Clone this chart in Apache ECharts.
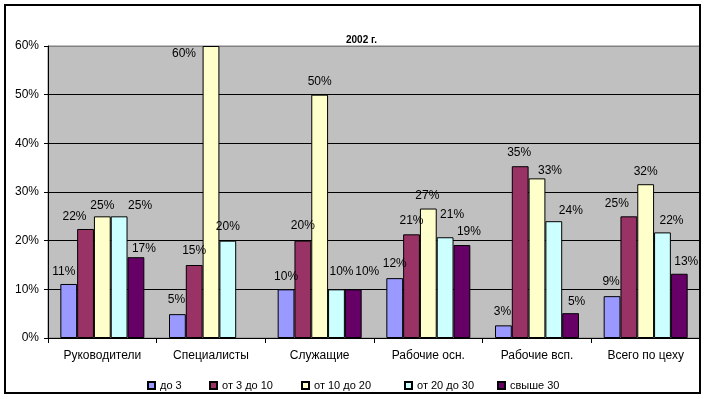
<!DOCTYPE html>
<html>
<head>
<meta charset="utf-8">
<script src="https://cdn.jsdelivr.net/npm/echarts@6/dist/echarts.min.js"></script>
<style>
  html, body { margin: 0; padding: 0; background: #fff; }
  #chart { width: 707px; height: 399px; }
</style>
</head>
<body>
<div id="chart"></div>
<script>
const categories = ["Руководители", "Специалисты", "Служащие", "Рабочие осн.", "Рабочие всп.", "Всего по цеху"];
const seriesNames = ["до 3", "от 3 до 10", "от 10 до 20", "от 20 до 30", "свыше 30"];

// percent values per series, one per category
const upTo3     = [11.1, 4.9, 10, 12.3, 2.6, 8.6];
const from3to10 = [22.4, 15, 20, 21.3, 35.3, 25];
const from10to20 = [25, 60, 50, 26.6, 32.8, 31.6];
const from20to30 = [25, 20, 10, 20.7, 24, 21.7];
const over30    = [16.6, null, 10, 19.1, 5.1, 13.2];

const yTicks = [0, 10, 20, 30, 40, 50, 60];

const seriesValues = [upTo3, from3to10, from10to20, from20to30, over30];
const colors = ["#9999FF", "#993366", "#FFFFCC", "#CCFFFF", "#660066"];

// label nudges (px) to mimic Excel's placement, per series / category
const labelShift = [
  [[-5, 1], [-1, -1], [0, 0], [0, -1], [-1, -1], [-1, -1]],
  [[-11, 1], [0, -1], [0, -2], [0, -1], [-1, -1], [-12, 0]],
  [[0, 2], [-27, 21], [0, 0], [-1, 0], [13, 5], [0, 0]],
  [[21, 2], [0, -1], [5, -5], [7, -10], [17, 2], [9, 1]],
  [[8, 4], [0, 0], [14, -5], [7, 0], [6, 2], [7, 1]],
];
const legendLeft = [147, 209, 301, 404, 497];

const FONT = 'Arial, "Liberation Sans", sans-serif';

const chart = echarts.init(document.getElementById("chart"));

const series = seriesNames.map((name, s) => ({
  name,
  type: "bar",
  barWidth: 16.8,
  barGap: "0%",
  itemStyle: { color: colors[s], borderColor: "#000", borderWidth: 1 },
  label: {
    show: true,
    position: "top",
    distance: 7,
    color: "#000",
    fontSize: 12,
    fontFamily: FONT,
    formatter: p => p.value == null ? "" : Math.round(p.value) + "%"
  },
  data: seriesValues[s].map((v, c) => ({
    value: v,
    label: { offset: labelShift[s][c] }
  }))
}));

chart.setOption({
  backgroundColor: "#fff",
  animation: false,
  title: {
    text: "2002 г.",
    left: 341,
    top: 30,
    textStyle: { fontSize: 10, fontWeight: "bold", color: "#000", fontFamily: FONT }
  },
  legend: seriesNames.map((name, i) => ({
    data: [name],
    left: legendLeft[i],
    top: 380,
    itemWidth: 7,
    itemHeight: 7,
    icon: "rect",
    padding: 0,
    textStyle: { fontSize: 11, color: "#000", fontFamily: FONT }
  })),
  grid: {
    left: 48, right: 7, top: 46, bottom: 61,
    show: true,
    backgroundColor: "#C0C0C0",
    borderColor: "#808080",
    borderWidth: 1
  },
  xAxis: {
    type: "category",
    data: categories,
    axisLine: { lineStyle: { color: "#000", width: 1 } },
    axisTick: { show: true, length: 5, lineStyle: { color: "#000" } },
    axisLabel: { color: "#000", fontSize: 12, fontFamily: FONT, margin: 12 }
  },
  yAxis: {
    type: "value",
    min: yTicks[0],
    max: yTicks[yTicks.length - 1],
    interval: yTicks[1] - yTicks[0],
    axisLine: { show: true, lineStyle: { color: "#000", width: 1 } },
    axisTick: { show: true, length: 4, lineStyle: { color: "#000" } },
    axisLabel: { color: "#000", fontSize: 12, fontFamily: FONT, margin: 9, formatter: v => v + "%" },
    splitLine: {
      lineStyle: { color: ["#000", "#000", "#000", "#000", "#000", "#000", "#808080"], width: 1 }
    }
  },
  graphic: [{
    type: "rect",
    z: 100,
    shape: { x: 5, y: 5, width: 695, height: 388 },
    style: { fill: null, stroke: "#000", lineWidth: 2 }
  }],
  series
});
</script>
</body>
</html>
